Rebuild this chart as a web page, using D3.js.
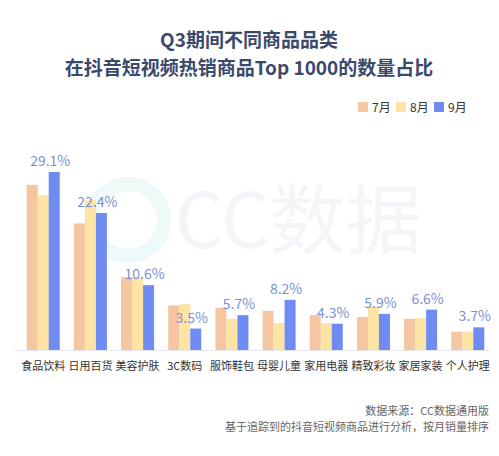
<!DOCTYPE html><html><head><meta charset="utf-8"><script src="https://cdn.jsdelivr.net/npm/d3@7"></script>
<style>body{margin:0;background:#fff}</style></head><body><svg id="c" width="499" height="456"></svg>
<script>
const categories=["食品饮料","日用百货","美容护肤","3C数码","服饰鞋包","母婴儿童","家用电器","精致彩妆","家居家装","个人护理"];
const seriesNames=["7月","8月","9月"];
const jul=[27.0,20.7,11.9,7.3,6.9,6.4,5.7,5.4,5.1,3.0];
const aug=[25.3,24.5,11.9,7.5,5.1,4.4,4.4,7.0,5.2,3.0];
const sep=[29.1,22.4,10.6,3.5,5.7,8.2,4.3,5.9,6.6,3.7];
const colors=["#f6c6a3","#fde3a4","#6f8cf3"];
const svg=d3.select("#c");
const font="'Noto Sans CJK SC','Noto Sans',sans-serif";
svg.append("circle").attr("cx",128).attr("cy",220).attr("r",36).attr("fill","none").attr("stroke","#eef9fa").attr("stroke-width",14);
svg.append("text").attr("x",175).attr("y",248).attr("font-size",76).attr("font-family",font).attr("fill","#f4f5f8").text("CC数据");
svg.append("text").attr("x",249).attr("y",47).attr("text-anchor","middle").attr("font-size",19).attr("font-weight","bold").attr("font-family",font).attr("fill","#3b4a6b").text("Q3期间不同商品品类");
svg.append("text").attr("x",249).attr("y",75).attr("text-anchor","middle").attr("font-size",19).attr("font-weight","bold").attr("font-family",font).attr("fill","#3b4a6b").text("在抖音短视频热销商品Top 1000的数量占比");
const x=d3.scaleBand().domain(categories).range([22,489]).paddingInner(0.3).paddingOuter(0.1);
const xs=d3.scaleBand().domain(seriesNames).range([0,x.bandwidth()]);
const y=d3.scaleLinear().domain([0,29.1]).range([350,172]);
const data=[jul,aug,sep];
data.forEach((arr,si)=>{
 svg.append("g").selectAll("rect").data(arr).join("rect")
  .attr("x",(d,i)=>x(categories[i])+xs(seriesNames[si])).attr("width",xs.bandwidth())
  .attr("y",d=>y(d)).attr("height",d=>y(0)-y(d)).attr("fill",colors[si]);
});
svg.append("line").attr("x1",14).attr("x2",490).attr("y1",350.5).attr("y2",350.5).attr("stroke","#e6e8ee");
svg.append("g").selectAll("text").data(sep).join("text")
 .attr("x",(d,i)=>x(categories[i])+xs("9月")+xs.bandwidth()/2-4).attr("y",d=>y(d)-6)
 .attr("text-anchor","middle").attr("font-size",14).attr("font-family",font).attr("fill","#7b90d4").text(d=>d.toFixed(1)+"%");
svg.append("g").selectAll("text").data(categories).join("text")
 .attr("x",d=>x(d)+x.bandwidth()/2).attr("y",370).attr("text-anchor","middle").attr("font-size",11).attr("font-family",font).attr("fill","#333").text(d=>d);
const lx=[358,396,434];
seriesNames.forEach((s,i)=>{
 svg.append("rect").attr("x",lx[i]).attr("y",102).attr("width",10).attr("height",10).attr("fill",colors[i]);
 svg.append("text").attr("x",lx[i]+14).attr("y",112).attr("font-size",12).attr("font-family",font).attr("fill","#333").text(s);
});
svg.append("text").attr("x",489).attr("y",415).attr("text-anchor","end").attr("font-size",11).attr("font-family",font).attr("fill","#666").text("数据来源：CC数据通用版");
svg.append("text").attr("x",489).attr("y",431).attr("text-anchor","end").attr("font-size",11).attr("font-family",font).attr("fill","#666").text("基于追踪到的抖音短视频商品进行分析，按月销量排序");
</script></body></html>
